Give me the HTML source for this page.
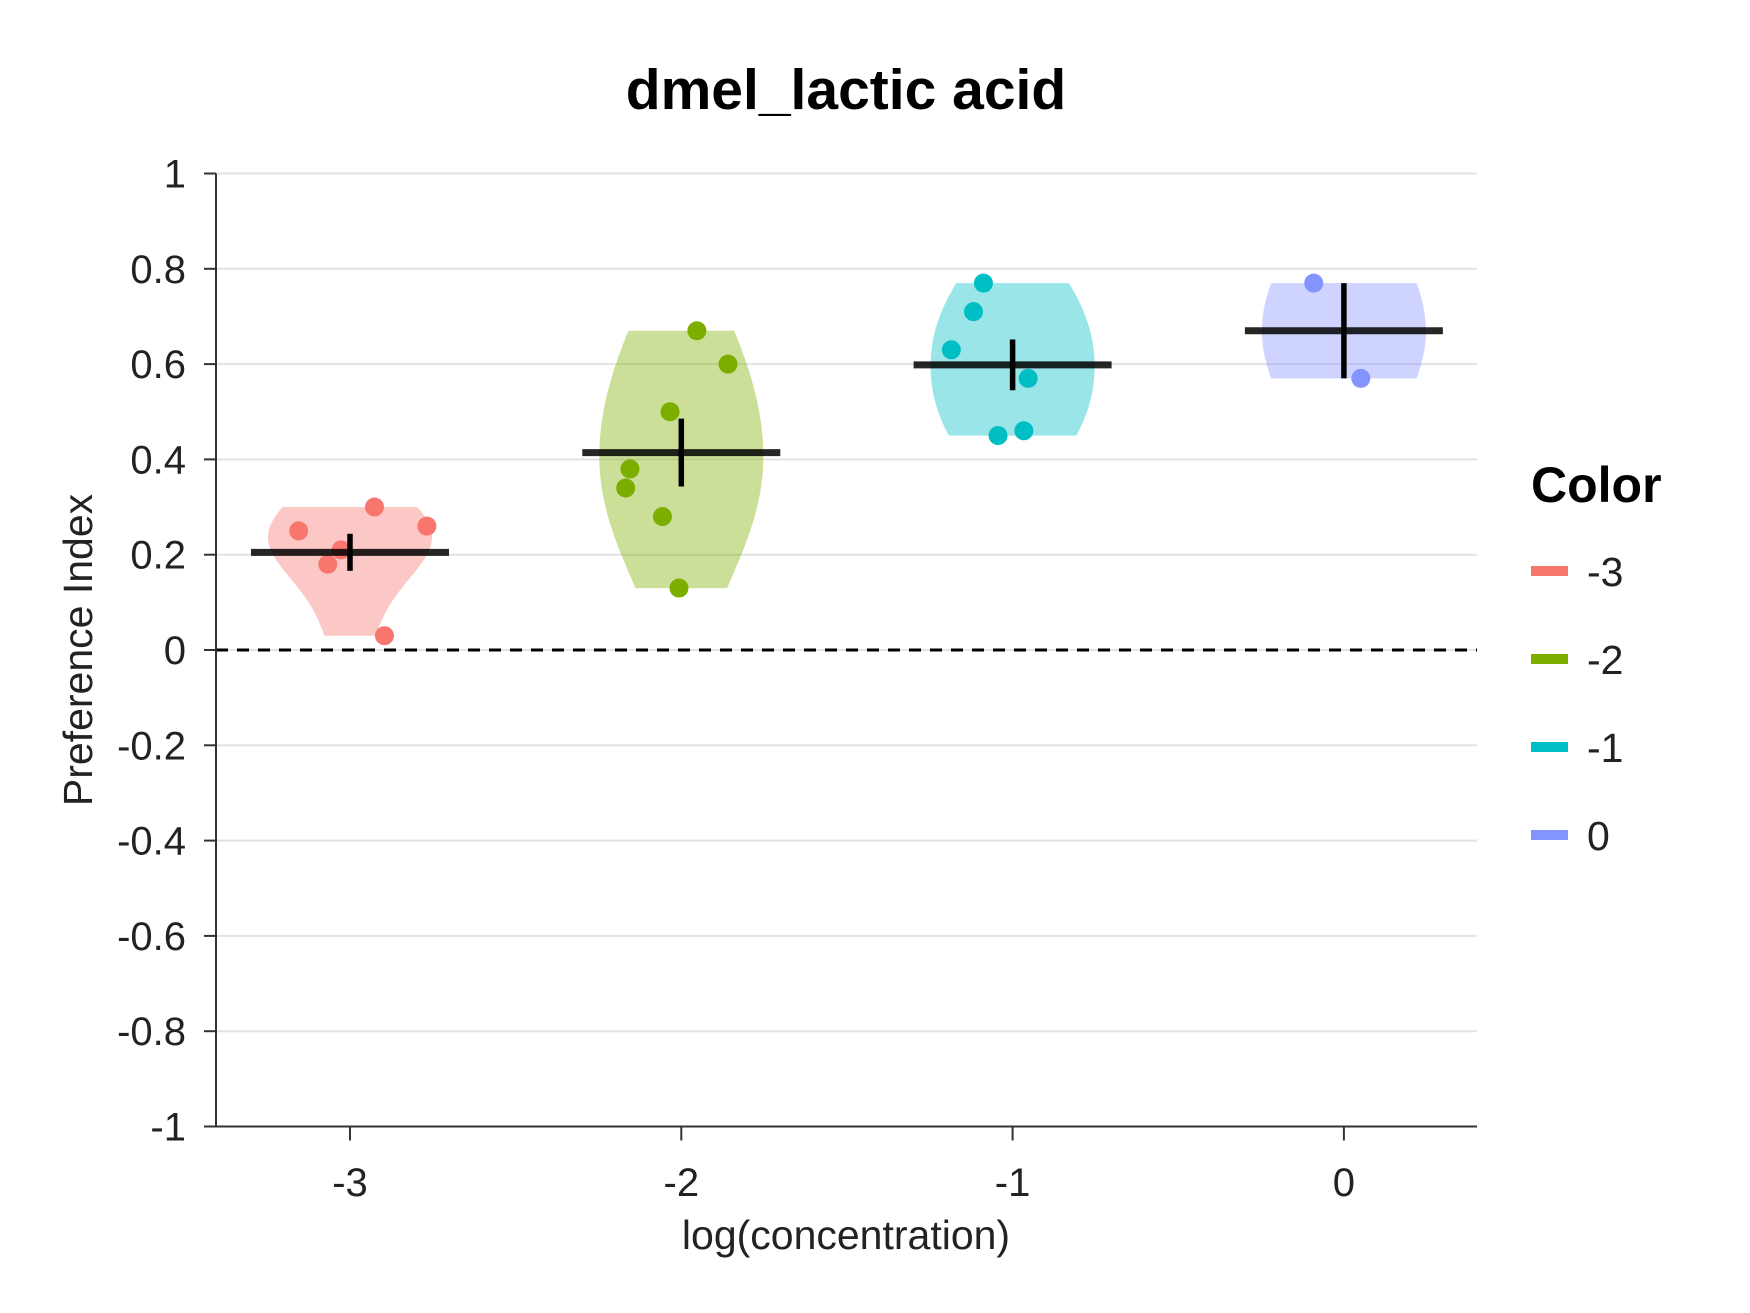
<!DOCTYPE html>
<html><head><meta charset="utf-8"><style>
html,body{margin:0;padding:0;background:#fff;}
svg{display:block;font-family:"Liberation Sans",Arial,sans-serif;}
</style></head><body>
<svg id="chart" width="1750" height="1313" viewBox="0 0 1750 1313">
<text x="846" y="109" text-anchor="middle" font-size="57" font-weight="bold" fill="#000">dmel_lactic acid</text>
<g id="grid"></g><g id="violins"></g><g id="marks"></g><g id="axes"></g>
<text transform="translate(92,650) rotate(-90)" text-anchor="middle" font-size="41" fill="#222">Preference Index</text>
<text x="846" y="1249" text-anchor="middle" font-size="41" fill="#222">log(concentration)</text>
<text x="1531" y="502" font-size="50" font-weight="bold" fill="#000">Color</text>
<g id="legend"></g>
</svg>
<script>
const categories = ["-3","-2","-1","0"];
const colors = ["#F8766D","#7CAE00","#00BFC4","#8494FF"];
const values = [
  [0.25,0.21,0.18,0.30,0.26,0.03],
  [0.67,0.60,0.50,0.38,0.34,0.28,0.13],
  [0.77,0.71,0.63,0.57,0.45,0.46],
  [0.77,0.57]
];
const jitter = [
  [-0.155,-0.027,-0.067,0.074,0.232,0.104],
  [0.047,0.141,-0.034,-0.155,-0.168,-0.057,-0.007],
  [-0.088,-0.118,-0.185,0.047,-0.044,0.034],
  [-0.091,0.051]
];
const yTicks = [1,0.8,0.6,0.4,0.2,0,-0.2,-0.4,-0.6,-0.8,-1];
const yTickLabels = ["1","0.8","0.6","0.4","0.2","0","-0.2","-0.4","-0.6","-0.8","-1"];

const NS="http://www.w3.org/2000/svg";
const X0=216, X1=1477;
function yScale(v){return 650 - v*476.5;}
function xScale(i){return 350 + i*331.3;}
function mk(tag,attrs,parent){const e=document.createElementNS(NS,tag);for(const k in attrs)e.setAttribute(k,attrs[k]);parent.appendChild(e);return e;}
const grid=document.getElementById('grid'),axes=document.getElementById('axes'),vg=document.getElementById('violins'),marks=document.getElementById('marks'),lg=document.getElementById('legend');

yTicks.forEach((t,i)=>{
  const y=yScale(t);
  const g=mk('line',{x1:X0,x2:X1,y1:y,y2:y,stroke:'#e3e3e3','stroke-width':2},grid);
  
  
  const tk=mk('line',{x1:X0-12,x2:X0,y1:y,y2:y,stroke:'#333','stroke-width':2},axes);
  
  
  const lb=mk('text',{x:X0-30,y:y+14,'text-anchor':'end','font-size':40,fill:'#222'},axes);
  lb.textContent=yTickLabels[i];
  
  
});
let a=mk('line',{x1:X0,x2:X0,y1:yScale(1),y2:yScale(-1),stroke:'#333','stroke-width':2},axes);


a=mk('line',{x1:X0-12,x2:X1,y1:yScale(-1),y2:yScale(-1),stroke:'#333','stroke-width':2},axes);


categories.forEach((c,i)=>{
  const x=xScale(i);
  const tk=mk('line',{x1:x,x2:x,y1:yScale(-1),y2:yScale(-1)+14,stroke:'#333','stroke-width':2},axes);
  
  
  const lb=mk('text',{x:x,y:1196,'text-anchor':'middle','font-size':40,fill:'#222'},axes);
  lb.textContent=c;
  
  
});
const zl=mk('line',{x1:X0,x2:X1,y1:yScale(0),y2:yScale(0),stroke:'#000','stroke-width':3,'stroke-dasharray':'12,9'},marks);



function mean(a){return a.reduce((s,v)=>s+v,0)/a.length;}
function sd(a){const m=mean(a);return Math.sqrt(a.reduce((s,v)=>s+(v-m)*(v-m),0)/(a.length-1));}
values.forEach((vals,i)=>{
  const cx=xScale(i), col=colors[i];
  const lo=Math.min(...vals), hi=Math.max(...vals);
  const s=sd(vals)||0.05;
  const bw=Math.max(1.3*s*Math.pow(vals.length,-0.2),0.03);
  const N=60, dens=[];
  for(let k=0;k<=N;k++){const y=lo+(hi-lo)*k/N;let d=0;vals.forEach(v=>{d+=Math.exp(-0.5*((y-v)/bw)**2);});dens.push([y,d]);}
  const maxd=Math.max(...dens.map(d=>d[1]));
  const W=82;
  let pts=dens.map(d=>[cx+d[1]/maxd*W,yScale(d[0])]);
  let pts2=dens.slice().reverse().map(d=>[cx-d[1]/maxd*W,yScale(d[0])]);
  const p=mk('path',{d:'M'+pts.concat(pts2).map(q=>q[0].toFixed(1)+','+q[1].toFixed(1)).join('L')+'Z',fill:col,'fill-opacity':0.4},vg);
  
  
  vals.forEach((v,j)=>{
    const c=mk('circle',{cx:cx+jitter[i][j]*331.3,cy:yScale(v),r:9.5,fill:col},marks);
    
    
  });
  const m=mean(vals), se=s/Math.sqrt(vals.length);
  const ml=mk('line',{x1:cx-99,x2:cx+99,y1:yScale(m),y2:yScale(m),stroke:'#000','stroke-width':7,'stroke-opacity':0.85},marks);
  
  
  const el=mk('line',{x1:cx,x2:cx,y1:yScale(m+se),y2:yScale(m-se),stroke:'#000','stroke-width':5.5},marks);
  
  
  const ly=571+i*88;
  const key=mk('rect',{x:1531,y:ly-5,width:37,height:10,fill:col},lg);
  
  
  const lt=mk('text',{x:1587,y:ly+15,'font-size':41,fill:'#222'},lg);
  lt.textContent=categories[i];
  
  
});
</script>
</body></html>
